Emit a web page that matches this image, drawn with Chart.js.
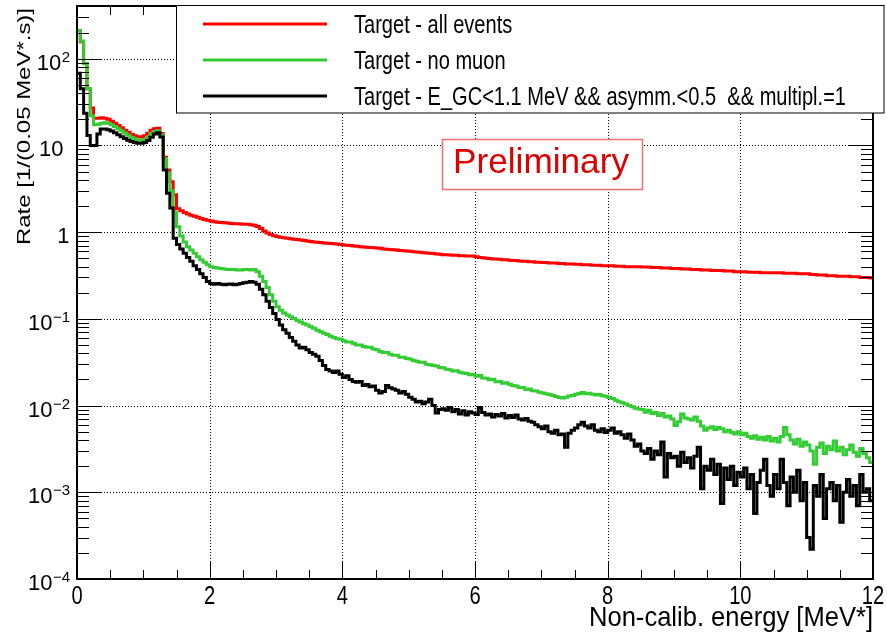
<!DOCTYPE html>
<html>
<head>
<meta charset="utf-8">
<script src="https://cdn.jsdelivr.net/npm/chart.js@4.4.1/dist/chart.umd.min.js"></script>
<style>
  html, body { margin: 0; padding: 0; background: #fff; }
  #wrap { width: 887px; height: 633px; }
</style>
</head>
<body>
<div id="wrap"><canvas id="canvas" width="887" height="633"></canvas></div>
<script>
// data, one value per 0.05 MeV bin (0 - 12 MeV)
const binWidth = 0.05;

const allEvents = [
  212, 157, 88, 45, 27, 20.5, 20.5, 20.8, 20.6, 20.0,
  19.0, 18.0, 17.0, 16.0, 15.0, 14.2, 13.4, 12.9, 12.6, 12.5,
  12.9, 13.8, 15.0, 15.6, 15.8, 13.7, 7.3, 5.2, 3.8, 2.7,
  1.86, 1.76, 1.68, 1.62, 1.57, 1.52, 1.48, 1.44, 1.40, 1.37,
  1.34, 1.32, 1.30, 1.29, 1.28, 1.27, 1.26, 1.25, 1.25, 1.24,
  1.23, 1.23, 1.22, 1.20, 1.16, 1.10, 1.03, 0.98, 0.94, 0.91,
  0.89, 0.87, 0.86, 0.85, 0.84, 0.83, 0.82, 0.81, 0.80, 0.79,
  0.78, 0.77, 0.765, 0.76, 0.75, 0.745, 0.74, 0.735, 0.73, 0.72,
  0.71, 0.705, 0.70, 0.69, 0.685, 0.68, 0.675, 0.67, 0.665, 0.66,
  0.655, 0.65, 0.64, 0.635, 0.63, 0.625, 0.62, 0.615, 0.61, 0.605,
  0.60, 0.595, 0.59, 0.585, 0.58, 0.575, 0.57, 0.565, 0.56, 0.555,
  0.55, 0.55, 0.545, 0.54, 0.54, 0.535, 0.535, 0.53, 0.53, 0.53,
  0.52, 0.51, 0.505, 0.50, 0.495, 0.49, 0.49, 0.485, 0.48, 0.48,
  0.475, 0.47, 0.47, 0.465, 0.46, 0.46, 0.455, 0.455, 0.45, 0.45,
  0.445, 0.445, 0.44, 0.44, 0.44, 0.435, 0.435, 0.43, 0.43, 0.43,
  0.425, 0.425, 0.42, 0.42, 0.42, 0.415, 0.415, 0.415, 0.41, 0.41,
  0.41, 0.41, 0.405, 0.405, 0.405, 0.40, 0.40, 0.40, 0.40, 0.40,
  0.395, 0.395, 0.395, 0.39, 0.39, 0.39, 0.385, 0.385, 0.385, 0.38,
  0.38, 0.38, 0.375, 0.375, 0.375, 0.37, 0.37, 0.37, 0.365, 0.365,
  0.365, 0.36, 0.36, 0.36, 0.36, 0.355, 0.355, 0.355, 0.35, 0.35,
  0.35, 0.35, 0.345, 0.345, 0.345, 0.345, 0.34, 0.34, 0.34, 0.34,
  0.34, 0.34, 0.34, 0.335, 0.335, 0.335, 0.335, 0.33, 0.33, 0.33,
  0.33, 0.325, 0.325, 0.32, 0.32, 0.32, 0.315, 0.315, 0.315, 0.31,
  0.31, 0.31, 0.31, 0.305, 0.305, 0.305, 0.30, 0.30, 0.30, 0.295
];

const noMuon = [
  212, 160, 88, 45, 22, 17.3, 17.5, 18.0, 18.3, 18.0,
  17.3, 16.5, 15.6, 14.8, 13.9, 13.1, 12.4, 11.9, 11.5, 11.4,
  11.7, 12.5, 13.7, 14.5, 14.8, 13.2, 7.0, 4.8, 3.0, 1.7,
  1.15, 0.90, 0.77, 0.68, 0.62, 0.57, 0.52, 0.48, 0.45, 0.42,
  0.40, 0.39, 0.385, 0.38, 0.375, 0.37, 0.37, 0.37, 0.365, 0.365,
  0.37, 0.37, 0.365, 0.37, 0.35, 0.31, 0.27, 0.23, 0.19, 0.16,
  0.138, 0.126, 0.117, 0.111, 0.106, 0.101, 0.096, 0.092, 0.088, 0.085,
  0.081, 0.078, 0.074, 0.071, 0.068, 0.066, 0.063, 0.061, 0.059, 0.058,
  0.056, 0.054, 0.054, 0.052, 0.050, 0.050, 0.048, 0.047, 0.047, 0.045,
  0.044, 0.042, 0.041, 0.041, 0.039, 0.038, 0.038, 0.036, 0.036, 0.035,
  0.0345, 0.033, 0.0325, 0.0315, 0.0315, 0.030, 0.0295, 0.029, 0.0285, 0.0275,
  0.0272, 0.0262, 0.0258, 0.025, 0.0252, 0.0242, 0.0238, 0.0234, 0.0226, 0.0228,
  0.0218, 0.0222, 0.0208, 0.0206, 0.0199, 0.0201, 0.0188, 0.0190, 0.0181, 0.0183,
  0.0176, 0.0170, 0.0168, 0.0161, 0.0162, 0.0153, 0.0155, 0.0148, 0.0147, 0.0142,
  0.014, 0.0137, 0.0134, 0.0131, 0.0127, 0.0124, 0.0122, 0.0125, 0.0129, 0.0131,
  0.0135, 0.0138, 0.0141, 0.0137, 0.0139, 0.0135, 0.0132, 0.0134, 0.0130, 0.0128,
  0.0124, 0.0121, 0.0115, 0.0111, 0.0108, 0.0104, 0.0100, 0.0097, 0.0093, 0.0091,
  0.0090, 0.0084, 0.0088, 0.0081, 0.0083, 0.0077, 0.0081, 0.0074, 0.0076, 0.0070,
  0.0059, 0.0065, 0.0080, 0.0072, 0.0070, 0.0068, 0.0074, 0.0066, 0.0058, 0.0052,
  0.0055, 0.0057, 0.0053, 0.0056, 0.0054, 0.0050, 0.0052, 0.0049, 0.0047, 0.0050,
  0.0046, 0.0048, 0.0044, 0.0042, 0.0045, 0.0041, 0.0043, 0.0040, 0.0044, 0.0039,
  0.0042, 0.0038, 0.0044, 0.0056, 0.0046, 0.0040, 0.0036, 0.0041, 0.0034, 0.0038,
  0.0035, 0.0030, 0.0021, 0.0033, 0.0037, 0.0028, 0.0034, 0.0031, 0.0039, 0.0030,
  0.0033, 0.0027, 0.0031, 0.0035, 0.0029, 0.0026, 0.0032, 0.0028, 0.0025, 0.0022
];

const selected = [
  68, 45, 23.5, 13, 10, 10, 13.5, 15.5, 15.5, 15.2,
  14.7, 14.0, 13.3, 12.6, 12.0, 11.5, 11.1, 10.8, 10.6, 10.6,
  10.8, 11.4, 12.4, 13.5, 14.0, 12.5, 5.2, 2.8, 1.9, 0.85,
  0.72, 0.64, 0.57, 0.51, 0.46, 0.41, 0.37, 0.33, 0.30, 0.27,
  0.255, 0.25, 0.255, 0.25, 0.248, 0.25, 0.252, 0.248, 0.25, 0.255,
  0.26, 0.265, 0.27, 0.265, 0.25, 0.22, 0.19, 0.16, 0.135, 0.115,
  0.098, 0.085, 0.075, 0.068, 0.061, 0.055, 0.050, 0.046, 0.047, 0.044,
  0.041, 0.039, 0.037, 0.033, 0.029, 0.026, 0.025, 0.024, 0.025, 0.023,
  0.021, 0.022, 0.020, 0.019, 0.0186, 0.019, 0.017, 0.0175, 0.0165, 0.0168,
  0.0150, 0.0140, 0.0145, 0.0170, 0.0160, 0.0155, 0.0150, 0.0140, 0.0145, 0.0135,
  0.0125, 0.0118, 0.0110, 0.0112, 0.0105, 0.0110, 0.0118, 0.0100, 0.0082, 0.0090,
  0.0092, 0.0088, 0.0095, 0.0085, 0.0090, 0.0080, 0.0087, 0.0078, 0.0085, 0.0082,
  0.0079, 0.0095, 0.0083, 0.0078, 0.0080, 0.0074, 0.0079, 0.0076, 0.0081, 0.0072,
  0.0077, 0.0073, 0.0078, 0.0070, 0.0068, 0.0071, 0.0066, 0.0064, 0.0060, 0.0057,
  0.0054, 0.0058, 0.0050, 0.0048, 0.0052, 0.0046, 0.0047, 0.0033, 0.0048, 0.0052,
  0.0055, 0.0060, 0.0064, 0.0058, 0.0055, 0.0060, 0.0052, 0.0050, 0.0054, 0.0049,
  0.0052, 0.0055, 0.0048, 0.0050, 0.0046, 0.0042, 0.0047, 0.0040, 0.0034, 0.0036,
  0.0030, 0.0028, 0.0032, 0.0024, 0.0030, 0.0027, 0.0038, 0.0015, 0.0028, 0.0025,
  0.0026, 0.0020, 0.0029, 0.0022, 0.0025, 0.0019, 0.0026, 0.0033, 0.0011, 0.0020,
  0.0018, 0.0024, 0.0016, 0.0021, 0.00074, 0.0019, 0.0014, 0.0020, 0.0012, 0.0017,
  0.0015, 0.0019, 0.0011, 0.0016, 0.00057, 0.0013, 0.0018, 0.0024, 0.0012, 0.0009,
  0.0016, 0.0011, 0.0024, 0.0013, 0.0007, 0.0015, 0.0010, 0.0018, 0.0008, 0.0013,
  0.0003, 0.00022, 0.0012, 0.0009, 0.0016, 0.0005, 0.0011, 0.0013, 0.0008, 0.0012,
  0.00045, 0.0010, 0.0014, 0.0009, 0.0012, 0.0007, 0.0016, 0.0010, 0.0011, 0.0008
];

const seriesLabels = [
  "Target - all events",
  "Target - no muon",
  "Target - E_GC<1.1 MeV && asymm.<0.5  && multipl.=1"
];
const seriesColors = ["#ff0000", "#33cc33", "#000000"];

const xTickLabels = [0, 2, 4, 6, 8, 10, 12];
const yDecades = [-4, -3, -2, -1, 0, 1, 2];
const xMin = 0, xMax = 12, yMin = 1e-4, yMax = 405;

// bins -> points at bin edges for a stepped line
function toSteps(values) {
  const pts = values.map((v, i) => ({ x: i * binWidth, y: v }));
  pts.push({ x: values.length * binWidth, y: values[values.length - 1] });
  return pts;
}

// draw text squeezed/stretched horizontally to a given width
function fitText(ctx, str, x, y, font, width, align) {
  ctx.font = font;
  const w = ctx.measureText(str).width;
  const s = width ? width / w : 1;
  ctx.save();
  ctx.translate(x, y);
  ctx.scale(s, 1);
  ctx.textAlign = align || "left";
  ctx.textBaseline = "alphabetic";
  ctx.fillText(str, 0, 0);
  ctx.restore();
}

function line(ctx, x1, y1, x2, y2) {
  ctx.beginPath();
  ctx.moveTo(x1, y1);
  ctx.lineTo(x2, y2);
  ctx.stroke();
}

// ROOT-like frame, grid, ticks and texts
const rootStyle = {
  id: "rootStyle",
  beforeDatasetsDraw(chart) {
    const { ctx, chartArea: a } = chart;
    const x = chart.scales.x, y = chart.scales.y;
    ctx.save();
    ctx.strokeStyle = "#000";
    ctx.lineWidth = 1;
    ctx.setLineDash([1, 2]);
    xTickLabels.forEach((v) => {
      if (v <= xMin || v >= xMax) return;
      const px = Math.round(x.getPixelForValue(v)) + 0.5;
      line(ctx, px, a.top, px, a.bottom);
    });
    yDecades.forEach((k) => {
      const v = Math.pow(10, k);
      if (v <= yMin) return;
      const py = Math.round(y.getPixelForValue(v)) + 0.5;
      line(ctx, a.left, py, a.right, py);
    });
    ctx.restore();
  },
  afterDatasetsDraw(chart) {
    const { ctx, chartArea: a } = chart;
    const x = chart.scales.x, y = chart.scales.y;
    ctx.save();
    ctx.strokeStyle = "#000";
    ctx.fillStyle = "#000";

    // ticks on all four sides
    ctx.lineWidth = 1;
    for (let v = xMin + 0.5; v < xMax; v += 0.5) {
      const px = Math.round(x.getPixelForValue(v)) + 0.5;
      const len = v % 2 === 0 ? 18 : 9;
      line(ctx, px, a.bottom, px, a.bottom - len);
      line(ctx, px, a.top, px, a.top + len);
    }
    yDecades.forEach((k) => {
      for (let m = 1; m <= 9; m++) {
        const v = m * Math.pow(10, k);
        if (v > yMax) break;
        const py = Math.round(y.getPixelForValue(v)) + 0.5;
        const len = m === 1 ? 24 : 12;
        line(ctx, a.left, py, a.left + len, py);
        line(ctx, a.right, py, a.right - len, py);
      }
    });

    // frame
    ctx.lineWidth = 2;
    ctx.strokeRect(a.left, a.top, a.right - a.left, a.bottom - a.top);

    // x tick labels
    xTickLabels.forEach((v) => {
      const px = x.getPixelForValue(v);
      fitText(ctx, String(v), px, a.bottom + 25, '26px "Liberation Sans"', String(v).length * 11.2, "center");
    });

    // y tick labels
    yDecades.forEach((k) => {
      const py = y.getPixelForValue(Math.pow(10, k));
      ctx.font = '22px "Liberation Sans"';
      ctx.textBaseline = "alphabetic";
      if (k === 0) {
        ctx.textAlign = "right";
        ctx.fillText("1", 69.5, py + 11);
      } else if (k === 1) {
        ctx.textAlign = "right";
        ctx.fillText("10", 63.5, py + 11);
      } else {
        const exp = k < 0 ? "\u2212" + (-k) : String(k);
        ctx.font = '15px "Liberation Sans"';
        const ew = ctx.measureText(exp).width;
        ctx.textAlign = "right";
        ctx.fillText(exp, 70, py + 3);
        ctx.font = '22px "Liberation Sans"';
        ctx.fillText("10", 70 - ew - 0.5, py + 11);
      }
    });

    // axis titles
    fitText(ctx, "Non-calib. energy [MeV*]", a.right, 626, '28px "Liberation Sans"', 284, "right");
    ctx.save();
    ctx.translate(30, 245);
    ctx.rotate(-Math.PI / 2);
    fitText(ctx, "Rate [1/(0.05 MeV*.s)]", 0, 0, '19px "Liberation Sans"', 237, "left");
    ctx.restore();

    // legend
    ctx.fillStyle = "#fff";
    ctx.fillRect(176.5, 5.5, 707.5, 107.5);
    ctx.lineWidth = 1;
    ctx.strokeStyle = "#000";
    ctx.strokeRect(176.5, 5.5, 707.5, 107.5);
    ctx.font = '25px "Liberation Sans"';
    const legendScale = 492 / ctx.measureText(seriesLabels[2]).width;
    seriesLabels.forEach((label, i) => {
      const ly = 24 + i * 36;
      ctx.strokeStyle = seriesColors[i];
      ctx.lineWidth = 3;
      line(ctx, 203, ly, 327, ly);
      ctx.font = '25px "Liberation Sans"';
      const w = ctx.measureText(label).width * legendScale;
      ctx.fillStyle = "#000";
      fitText(ctx, label, 354, ly + 9, '25px "Liberation Sans"', w, "left");
    });

    // "Preliminary" box
    ctx.fillStyle = "#fff";
    ctx.fillRect(442.5, 139.5, 200, 50);
    ctx.strokeStyle = "#f07070";
    ctx.lineWidth = 1.5;
    ctx.strokeRect(442.5, 139.5, 200, 50);
    ctx.fillStyle = "#dd0000";
    fitText(ctx, "Preliminary", 453, 173, '35px "Liberation Sans"', 176, "left");

    ctx.restore();
  }
};

// config
const config = {
  type: "line",
  data: {
    datasets: [
      { label: seriesLabels[0], data: toSteps(allEvents), borderColor: seriesColors[0], order: 3 },
      { label: seriesLabels[1], data: toSteps(noMuon), borderColor: seriesColors[1], order: 2 },
      { label: seriesLabels[2], data: toSteps(selected), borderColor: seriesColors[2], order: 1 }
    ]
  },
  options: {
    responsive: false,
    animation: false,
    devicePixelRatio: 1,
    layout: { padding: { left: 77, right: 14, top: 6, bottom: 54 } },
    elements: {
      line: { borderWidth: 3, stepped: "before", tension: 0, borderJoinStyle: "miter", fill: false },
      point: { radius: 0, hoverRadius: 0 }
    },
    plugins: { legend: { display: false }, tooltip: { enabled: false } },
    scales: {
      x: { type: "linear", min: xMin, max: xMax, display: false },
      y: { type: "logarithmic", min: yMin, max: yMax, display: false }
    }
  },
  plugins: [rootStyle]
};

// render init block
const myChart = new Chart(document.getElementById("canvas"), config);
</script>
</body>
</html>
